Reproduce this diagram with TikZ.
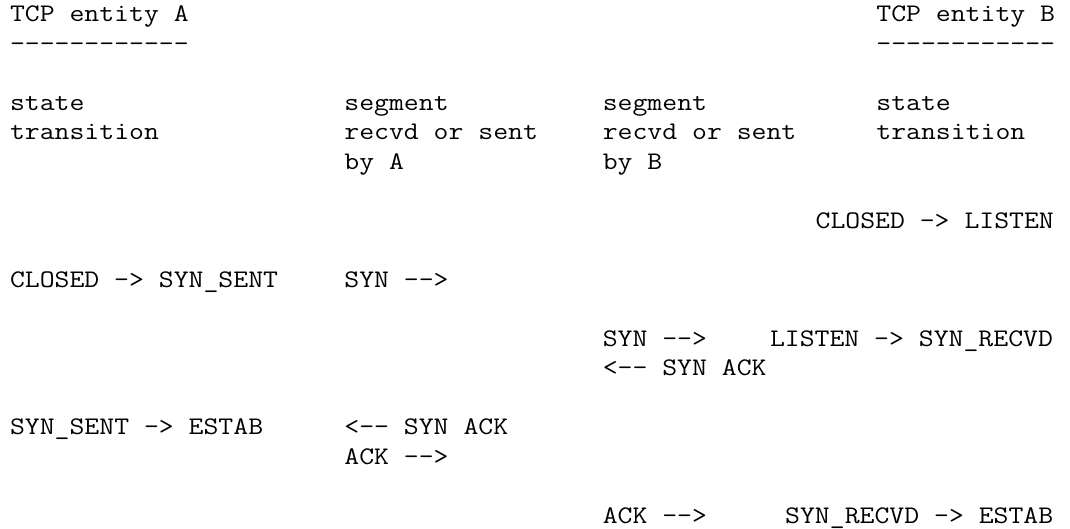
\documentclass[tikz,border=0pt]{standalone}
\usepackage{fontspec}
\newfontfamily\courfont[FakeStretch=1.143]{Latin Modern Mono}
\begin{document}
\begin{tikzpicture}[
  txt/.style={anchor=base west, inner sep=0pt, outer sep=0pt,
    font=\fontsize{25.3}{30}\selectfont\courfont, text=black}]
\useasboundingbox[fill=white] (0pt,0pt) rectangle (1070pt,-528pt);
\begin{scope}[shift={(10pt,-21.5pt)}, x=15.2pt, y=-29.5pt]
  % header
  \node[txt] (ha) at (0,0) {TCP entity A};
  \node[txt] (hb) at (57,0) {TCP entity B};
  \node[txt] (da) at (0,1) {------------};
  \node[txt] (db) at (57,1) {------------};
  \node[txt] (sa1) at (0,3) {state};
  \node[txt] (ga1) at (22,3) {segment};
  \node[txt] (gb1) at (39,3) {segment};
  \node[txt] (sb1) at (57,3) {state};
  \node[txt] (sa2) at (0,4) {transition};
  \node[txt] (ga2) at (22,4) {recvd or sent};
  \node[txt] (gb2) at (39,4) {recvd or sent};
  \node[txt] (sb2) at (57,4) {transition};
  \node[txt] (ga3) at (22,5) {by A};
  \node[txt] (gb3) at (39,5) {by B};
  % rows
  \node[txt] (r7b) at (53,7) {CLOSED -> LISTEN};
  \node[txt] (r9a) at (0,9) {CLOSED -> SYN\_SENT};
  \node[txt] (r9s) at (22,9) {SYN -->};
  \node[txt] (r11s) at (39,11) {SYN -->};
  \node[txt] (r11b) at (50,11) {LISTEN -> SYN\_RECVD};
  \node[txt] (r12s) at (39,12) {<-- SYN ACK};
  \node[txt] (r14a) at (0,14) {SYN\_SENT -> ESTAB};
  \node[txt] (r14s) at (22,14) {<-- SYN ACK};
  \node[txt] (r15s) at (22,15) {ACK -->};
  \node[txt] (r17s) at (39,17) {ACK -->};
  \node[txt] (r17b) at (51,17) {SYN\_RECVD -> ESTAB};
\end{scope}
\end{tikzpicture}
\end{document}
